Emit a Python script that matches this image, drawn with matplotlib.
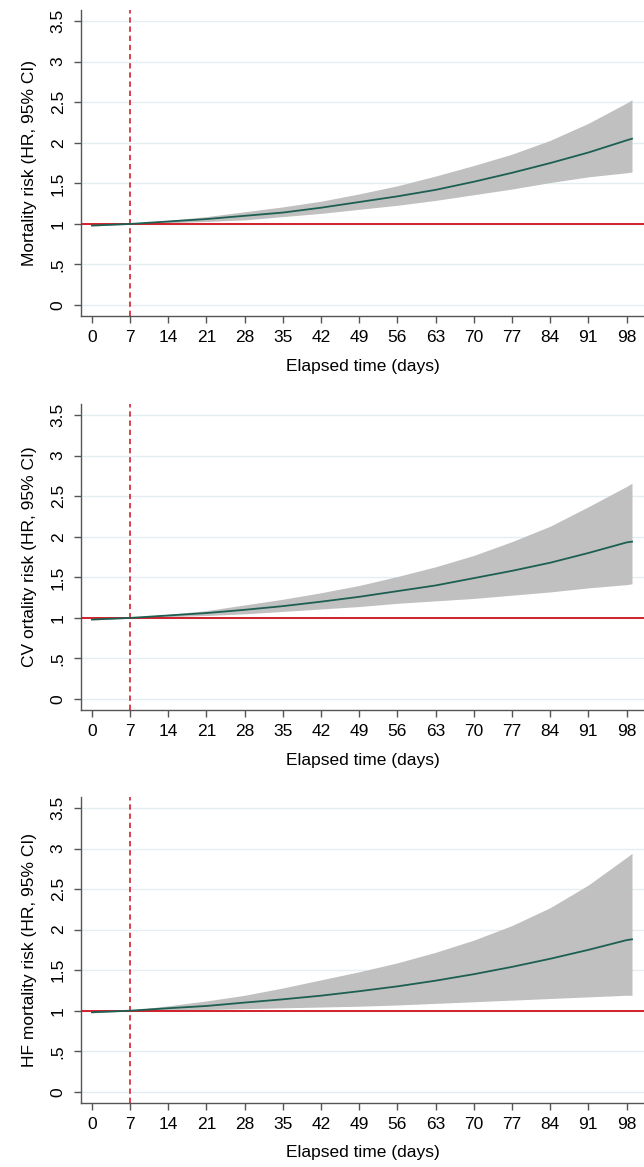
import matplotlib
matplotlib.use('Agg')
import matplotlib.pyplot as plt

plt.rcParams['font.family'] = ['Liberation Sans', 'DejaVu Sans']

days = [0, 7, 14, 21, 28, 35, 42, 49, 56, 63, 70, 77, 84, 91, 98, 99]

# Panel 1: all-cause mortality
hr_all = [0.98, 1.00, 1.03, 1.06, 1.10, 1.14, 1.20, 1.27, 1.34, 1.42, 1.52, 1.63, 1.75, 1.88, 2.03, 2.05]
hi_all = [0.985, 1.005, 1.045, 1.09, 1.15, 1.21, 1.28, 1.37, 1.47, 1.59, 1.72, 1.86, 2.03, 2.24, 2.49, 2.53]
lo_all = [0.975, 0.995, 1.015, 1.03, 1.05, 1.09, 1.13, 1.18, 1.23, 1.29, 1.36, 1.43, 1.51, 1.58, 1.63, 1.64]

# Panel 2: CV mortality
hr_cv = [0.98, 1.00, 1.03, 1.06, 1.10, 1.145, 1.20, 1.26, 1.33, 1.40, 1.49, 1.58, 1.68, 1.80, 1.93, 1.94]
hi_cv = [0.985, 1.005, 1.045, 1.09, 1.16, 1.23, 1.31, 1.40, 1.51, 1.63, 1.77, 1.94, 2.13, 2.37, 2.62, 2.66]
lo_cv = [0.975, 0.995, 1.015, 1.03, 1.05, 1.08, 1.11, 1.14, 1.18, 1.21, 1.24, 1.28, 1.32, 1.37, 1.41, 1.42]

# Panel 3: HF mortality
hr_hf = [0.98, 1.00, 1.03, 1.058, 1.10, 1.14, 1.185, 1.24, 1.30, 1.37, 1.45, 1.54, 1.64, 1.75, 1.87, 1.88]
hi_hf = [0.985, 1.005, 1.06, 1.12, 1.19, 1.28, 1.38, 1.48, 1.59, 1.72, 1.87, 2.05, 2.27, 2.55, 2.89, 2.94]
lo_hf = [0.975, 0.995, 1.005, 1.015, 1.025, 1.035, 1.045, 1.055, 1.07, 1.09, 1.11, 1.13, 1.15, 1.17, 1.19, 1.19]

ylabels = ['Mortality risk (HR, 95% CI)',
           'CV ortality risk (HR, 95% CI)',
           'HF mortality risk (HR, 95% CI)']
xticks = list(range(0, 99, 7))
yticks = [0, 0.5, 1, 1.5, 2, 2.5, 3, 3.5]
ytick_labels = ['0', '.5', '1', '1.5', '2', '2.5', '3', '3.5']

panels = [(hr_all, hi_all, lo_all), (hr_cv, hi_cv, lo_cv), (hr_hf, hi_hf, lo_hf)]
# axes rects [left, bottom, width, height] in figure fraction
rects = [[0.1258, 0.7292, 0.8742, 0.2622],
         [0.1258, 0.3916, 0.8742, 0.2622],
         [0.1258, 0.0551, 0.8742, 0.2620]]

fig = plt.figure(figsize=(6.44, 11.67), dpi=100)

for (hr, hi, lo), rect, ylab in zip(panels, rects, ylabels):
    ax = fig.add_axes(rect)
    ax.fill_between(days, lo, hi, color='#c0c0c0', lw=0, zorder=2)
    ax.axhline(1, color='#d0101c', lw=1.3, zorder=3)
    ax.axvline(7, color='#d0101c', lw=1.1, ls=(0, (3.5, 2.5)), zorder=3)
    ax.plot(days, hr, color='#1d5f52', lw=1.3, zorder=4)

    ax.set_xlim(-2, 101.2)
    ax.set_ylim(-0.135, 3.636)
    ax.set_xticks(xticks)
    ax.set_yticks(yticks)
    ax.set_yticklabels(ytick_labels, rotation=90, va='center')
    ax.grid(axis='y', color='#e4eef0', lw=1.0, zorder=1)
    ax.set_axisbelow(True)

    for s in ['top', 'right']:
        ax.spines[s].set_visible(False)
    for s in ['left', 'bottom']:
        ax.spines[s].set_color('#555555')
        ax.spines[s].set_linewidth(1.0)
    ax.tick_params(axis='both', colors='#555555', labelcolor='black',
                   length=5, width=1.0, labelsize=12.5)
    ax.tick_params(axis='x', pad=5)
    ax.tick_params(axis='y', pad=6)

    ax.set_xlabel('Elapsed time (days)', fontsize=12.5, labelpad=10)
    ax.set_ylabel(ylab, fontsize=12.5, labelpad=10)

plt.savefig('out.png', dpi=100)
